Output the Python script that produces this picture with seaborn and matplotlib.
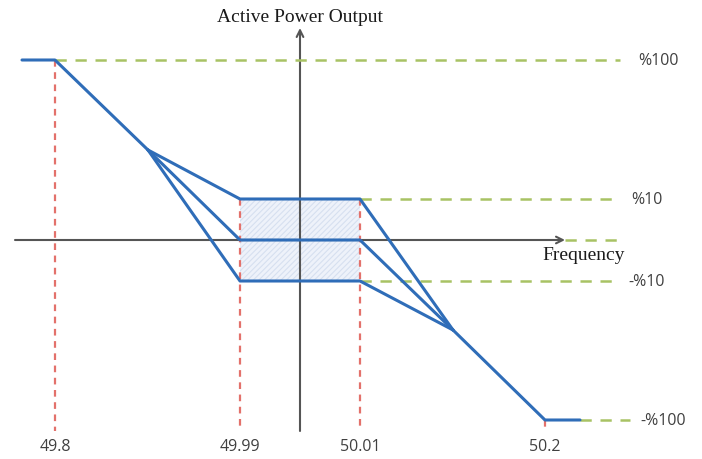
import numpy as np
import pandas as pd
import matplotlib
matplotlib.use("Agg")
from matplotlib import pyplot as plt
import seaborn as sns

# schematic coordinates (origin where the two axes cross)
freq_pos = [-245, -60, 60, 245]
freq_labels = ['49.8', '49.99', '50.01', '50.2']
level_pos = [180, 41, -41, -180]
level_labels = ['%100', '%10', '-%10', '-%100']

# blue droop curves: one path per branch
path_top = [(-278, 180), (-245, 180), (-152, 90)]
path_hi = [(-152, 90), (-60, 41), (60, 41), (153, -90)]
path_mid = [(-152, 90), (-60, 0), (60, 0), (153, -90)]
path_lo = [(-152, 90), (-60, -41), (60, -41), (153, -90)]
path_bottom = [(153, -90), (245, -180), (280, -180)]

blue = '#2f6db8'
red = '#e3716b'
green = '#a8c264'
axis_col = '#555555'
txt_col = '#404040'

rows = []
for name, pts in [('top', path_top), ('hi', path_hi), ('mid', path_mid),
                  ('lo', path_lo), ('bottom', path_bottom)]:
    for i, (x, y) in enumerate(pts):
        rows.append({'path': name, 'order': i, 'x': x, 'y': y})
df = pd.DataFrame(rows)

sns.set_theme(style='white')
plt.rcParams['hatch.linewidth'] = 0.8
fig = plt.figure(figsize=(7.02, 4.60), dpi=100)
ax = fig.add_axes([0, 0, 1, 1])

# shaded dead band
ax.fill_between([freq_pos[1], freq_pos[2]], level_pos[2], level_pos[1],
                facecolor='#eef2fa', edgecolor='#d6e0f0', hatch='//////', lw=0, zorder=1)

# axes with arrows
ax.annotate('', xy=(265, 0), xytext=(-285, 0),
            arrowprops=dict(arrowstyle='->', color=axis_col, lw=1.5, shrinkA=0, shrinkB=0), zorder=2)
ax.annotate('', xy=(0, 212), xytext=(0, -191),
            arrowprops=dict(arrowstyle='->', color=axis_col, lw=1.5, shrinkA=0, shrinkB=0), zorder=2)

# green reference levels
gdash = (0, (4.5, 3.5))
ax.plot([-245, 320], [level_pos[0], level_pos[0]], color=green, lw=1.8, ls=gdash, zorder=2)
ax.plot([60, 317], [level_pos[1], level_pos[1]], color=green, lw=1.8, ls=gdash, zorder=2)
ax.plot([265, 320], [0, 0], color=green, lw=1.8, ls=gdash, zorder=2)
ax.plot([60, 317], [level_pos[2], level_pos[2]], color=green, lw=1.8, ls=gdash, zorder=2)
ax.plot([280, 330], [level_pos[3], level_pos[3]], color=green, lw=1.8, ls=gdash, zorder=2)

# red frequency markers
rdash = (0, (3, 2.5))
tops = [level_pos[0], level_pos[1], level_pos[1], level_pos[3]]
for xp, yt in zip(freq_pos, tops):
    ax.plot([xp, xp], [yt, -191], color=red, lw=1.6, ls=rdash, zorder=2)

# blue curves
sns.lineplot(data=df, x='x', y='y', units='path', estimator=None, sort=False,
             color=blue, lw=2.2, ax=ax, zorder=3, legend=False)
ax.axis('off')
ax.set_xlim(-300, 402)
ax.set_ylim(-219, 241)

# labels
for xp, lab in zip(freq_pos, freq_labels):
    ax.text(xp, -206, lab, ha='center', va='center', fontsize=11.5,
            family='Open Sans', color=txt_col)
for yp, lab, xl in zip(level_pos, level_labels, [338, 331, 328, 340]):
    ax.text(xl, yp, lab, ha='left', va='center', fontsize=11.5,
            family='Open Sans', color=txt_col)
ax.text(0, 224, 'Active Power Output', ha='center', va='center', fontsize=14,
        family='Liberation Serif', color='#1a1a1a')
ax.text(242, -14, 'Frequency', ha='left', va='center', fontsize=14,
        family='Liberation Serif', color='#1a1a1a')

fig.savefig('out.png', dpi=100)
